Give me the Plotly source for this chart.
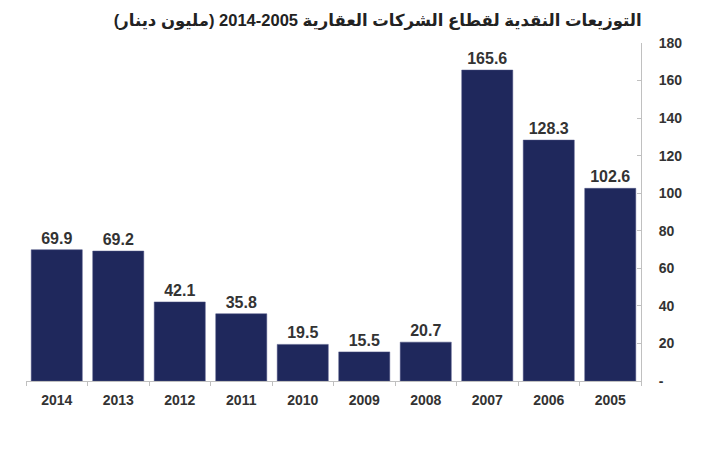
import plotly.graph_objects as go

years = ["2014", "2013", "2012", "2011", "2010", "2009", "2008", "2007", "2006", "2005"]
values = [69.9, 69.2, 42.1, 35.8, 19.5, 15.5, 20.7, 165.6, 128.3, 102.6]
y_ticks = [0, 20, 40, 60, 80, 100, 120, 140, 160, 180]
y_tick_text = ["-", "20", "40", "60", "80", "100", "120", "140", "160", "180"]
title = "التوزيعات النقدية لقطاع الشركات العقارية 2005-2014 (مليون دينار)"

FONT = "Liberation Sans, Arial, DejaVu Sans, sans-serif"

fig = go.Figure(go.Bar(
    x=years, y=values,
    marker=dict(color="#1f285c", line=dict(color="#4a5180", width=0.5)),
    text=[f"{v:.1f}" for v in values],
    textposition="outside",
    textfont=dict(family=FONT, size=16, color="#333333"),
    cliponaxis=False,
))

fig.update_layout(
    width=706, height=450,
    margin=dict(l=26, r=65, t=43, b=69),
    paper_bgcolor="white", plot_bgcolor="white",
    bargap=0.17,
    showlegend=False,
    title=dict(text="<b>" + title + "</b>", x=0.535, xanchor="center", y=0.955, yanchor="middle",
               font=dict(family=FONT, size=16.5, color="#222222")),
    xaxis=dict(
        type="category", categoryorder="array", categoryarray=years,
        showline=True, linecolor="#c0c0c0", linewidth=1,
        ticks="outside", tickson="boundaries", ticklen=4, tickcolor="#c0c0c0",
        tickfont=dict(family=FONT, size=14, color="#333333"),
        ticklabelstandoff=6,
        showgrid=False,
    ),
    yaxis=dict(
        side="right", range=[0, 180],
        tickvals=y_ticks, ticktext=["<b>" + t + "</b>" for t in y_tick_text],
        showline=True, linecolor="#c0c0c0", linewidth=1,
        ticks="inside", ticklen=4, tickcolor="#c0c0c0",
        tickfont=dict(family=FONT, size=14, color="#333333"),
        ticklabelstandoff=14,
        showgrid=False, zeroline=False,
    ),
)
fig.update_xaxes(ticktext=["<b>" + y + "</b>" for y in years], tickvals=years)
fig.update_traces(texttemplate="<b>%{text}</b>")

fig.write_html("out.html")
